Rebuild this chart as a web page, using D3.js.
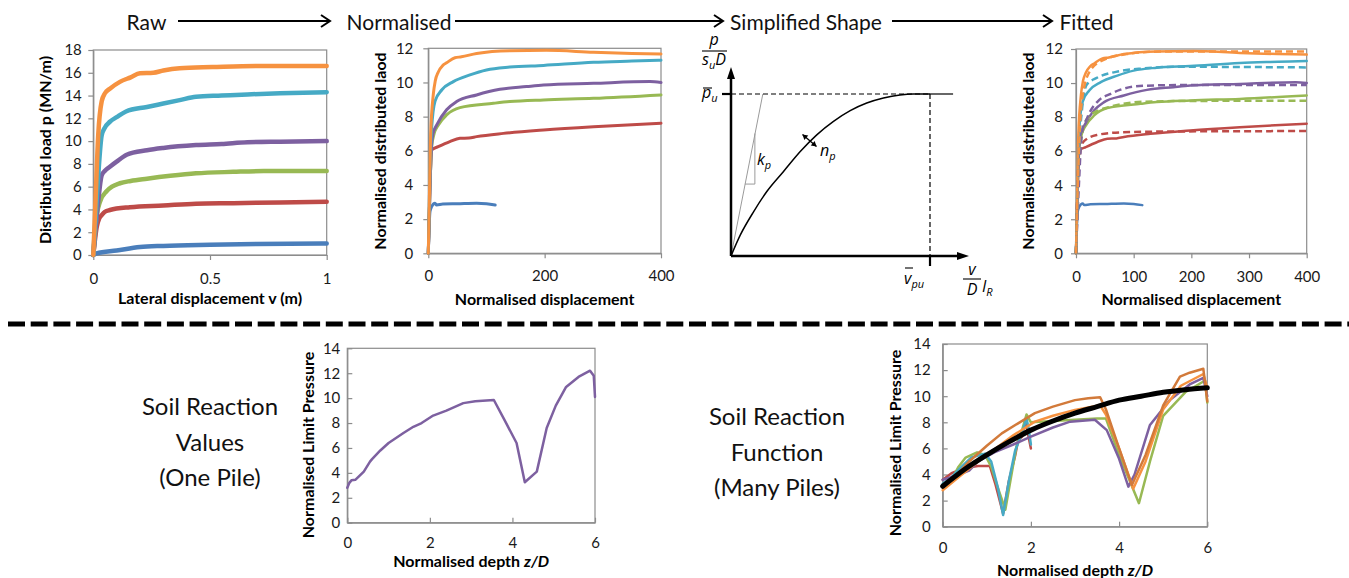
<!DOCTYPE html>
<html>
<head>
<meta charset="utf-8">
<script src="https://cdn.jsdelivr.net/npm/d3@7"></script>
<style>
  body { margin: 0; background: #fff; }
  svg text { font-family: Lato, "Open Sans", sans-serif; }
</style>
</head>
<body>
<svg id="fig" width="1349" height="578"></svg>
<script>
// ---- data ----
// Raw: lateral displacement v (m) vs distributed load p (MN/m)
var rawBlue   = [[0,0],[0.014,0.15],[0.1,0.4],[0.2,0.7],[0.3,0.8],[0.5,0.9],[0.7,0.97],[1,1.0]];
var rawRed    = [[0,0],[0.015,2.5],[0.025,3.2],[0.036,3.5],[0.05,3.8],[0.071,3.95],[0.157,4.2],[0.3,4.35],[0.44,4.5],[0.6,4.55],[0.8,4.62],[1,4.68]];
var rawGreen  = [[0,0],[0.015,3.5],[0.029,4.7],[0.057,5.6],[0.08,6.0],[0.114,6.3],[0.16,6.5],[0.23,6.7],[0.33,6.95],[0.44,7.17],[0.6,7.3],[0.73,7.37],[1,7.37]];
var rawPurple = [[0,0],[0.02,4.5],[0.036,7.0],[0.05,7.4],[0.071,7.75],[0.1,8.2],[0.143,8.8],[0.23,9.2],[0.3,9.4],[0.44,9.65],[0.55,9.75],[0.66,9.9],[0.8,9.95],[1,10.0]];
var rawTeal   = [[0,0],[0.015,5],[0.036,10.5],[0.05,11.2],[0.071,11.7],[0.1,12.1],[0.14,12.6],[0.23,13.0],[0.3,13.3],[0.37,13.6],[0.44,13.9],[0.55,14.0],[0.66,14.1],[0.8,14.2],[1,14.3]];
var rawOrange = [[0,0],[0.01,5],[0.021,10.5],[0.036,13.5],[0.05,14.2],[0.071,14.6],[0.114,15.2],[0.16,15.6],[0.2,15.95],[0.257,16.0],[0.3,16.2],[0.37,16.4],[0.51,16.5],[0.7,16.6],[1,16.6]];

// Normalised displacement vs normalised distributed load
var normBlue   = [[0,0],[2.9,2.44],[5.7,2.73],[11.5,2.93],[14.3,2.83],[25,2.88],[50,2.9],[83,2.93],[100,2.9],[115,2.83]];
var normRed    = [[0,0],[3,4],[5.7,6.05],[17,6.24],[37,6.54],[54.4,6.73],[70,6.75],[83,6.83],[129,7.02],[198,7.22],[284,7.41],[400,7.61]];
var normGreen  = [[0,0],[3,4],[6,6.3],[10,7.0],[17,7.5],[31.5,8.1],[54.4,8.53],[112,8.78],[140,8.88],[198,8.98],[284,9.07],[400,9.27]];
var normPurple = [[0,0],[3,4],[5.7,6.34],[8,7.0],[14.3,7.5],[31.5,8.4],[48.7,8.88],[83,9.27],[123,9.6],[169,9.76],[198,9.85],[284,9.95],[381,10.05],[400,10.0]];
var normTeal   = [[0,0],[3,5],[5.7,7.3],[11.5,8.9],[23,9.56],[43,10.05],[71.6,10.44],[100,10.73],[140,10.9],[198,11.0],[284,11.18],[350,11.25],[400,11.3]];
var normOrange = [[0,0],[2,3.5],[4,6.9],[8.6,9.3],[12,10.1],[17,10.6],[25,11.0],[31.5,11.15],[45.8,11.45],[57,11.5],[83,11.7],[140,11.86],[203,11.88],[284,11.77],[350,11.7],[400,11.67]];

// Fitted curves (dashed)
var fitRed    = [[0,0],[4,5],[12.7,6.55],[36,6.95],[76,7.1],[150,7.15],[400,7.18]];
var fitGreen  = [[0,0],[5,5],[12,7.2],[24,8.1],[59,8.6],[117,8.9],[200,8.95],[400,8.96]];
var fitPurple = [[0,0],[5,4],[10,7],[20,8],[40,9.0],[59,9.35],[76,9.6],[117,9.84],[175,9.88],[250,9.88],[400,9.88]];
var fitTeal   = [[0,0],[5,6],[10,8.3],[18.5,9.9],[36,10.3],[76,10.7],[117,10.86],[175,10.96],[250,10.95],[400,10.92]];
var fitOrange = [[0,0],[4,5],[10,8.9],[24,10.7],[47,11.35],[88,11.7],[146,11.85],[250,11.85],[400,11.85]];

// Simplified shape (normalised schematic: v / v_pu, p / p_u)
var shapeCurve = [[0,0],[0.047,0.13],[0.114,0.274],[0.18,0.398],[0.264,0.522],[0.348,0.645],[0.431,0.748],[0.515,0.831],[0.599,0.897],[0.682,0.944],[0.766,0.975],[0.849,0.994],[0.916,1.0],[1,1]];
var kpLine = [[0,0],[0.16,1]];
var kpTriangle = [[0.07,0.444],[0.12,0.444],[0.12,0.756]];

// Soil reaction values, one pile: depth z/D vs normalised limit pressure
var onePile = [[0,2.8],[0.05,3.2],[0.1,3.4],[0.2,3.45],[0.4,4.1],[0.55,4.9],[0.6,5.1],[0.8,5.8],[1.0,6.4],[1.36,7.2],[1.6,7.7],[1.8,8.0],[2.08,8.6],[2.4,9.0],[2.81,9.6],[3.1,9.75],[3.55,9.85],[3.8,8.3],[4.1,6.4],[4.3,3.25],[4.59,4.1],[4.83,7.6],[5.05,9.4],[5.3,10.9],[5.6,11.7],[5.88,12.2],[5.97,11.8],[6.0,10.1]];

// Soil reaction function, many piles
var manyRed    = [[0,3.6],[0.2,4.1],[0.5,4.5],[0.8,4.65],[1.07,4.65],[1.2,3.2],[1.37,1.0],[1.5,3.5],[1.64,5.4],[1.71,6.6],[1.8,6.9],[1.87,8.2],[2.0,6.0]];
var manyGreen  = [[0,3.2],[0.2,3.6],[0.36,4.6],[0.52,5.3],[0.78,5.7],[0.96,5.5],[1.1,4.6],[1.25,3.0],[1.42,1.3],[1.55,3.8],[1.67,6.1],[1.8,7.4],[1.9,8.6],[2.0,8.0],[2.5,8.1],[3.0,8.2],[3.5,8.3],[3.7,8.3],[4.0,5.5],[4.45,1.8],[4.7,5.0],[5.0,8.5],[5.5,10.3],[5.95,11.2],[6.0,9.5]];
var manyTeal   = [[0,3.3],[0.2,3.8],[0.43,4.6],[0.65,5.3],[0.96,5.6],[1.1,5.0],[1.25,3.0],[1.37,0.9],[1.5,3.5],[1.64,5.8],[1.8,7.2],[1.9,8.3],[1.95,7.5],[2.0,6.3]];
var manyPurple = [[0,3.6],[0.3,3.9],[0.6,4.3],[0.8,5.0],[1.17,5.7],[1.6,6.3],[2.0,6.9],[2.5,7.6],[2.89,8.05],[3.45,8.2],[3.72,7.4],[4.0,5.2],[4.21,3.07],[4.35,4.0],[4.7,7.8],[5.15,9.7],[5.6,10.9],[5.91,11.4],[6.0,10.0]];
var manyLightOrange = [[0,2.8],[0.4,3.9],[0.8,5.0],[1.2,6.0],[1.6,7.0],[2.09,8.05],[2.5,8.5],[3.0,8.95],[3.57,9.3],[3.7,8.6],[4.0,6.0],[4.32,2.9],[4.6,5.0],[5.0,9.0],[5.4,10.8],[5.91,11.7],[6.0,10.6]];
var manyDarkOrange  = [[0,3.0],[0.3,3.9],[0.6,5.0],[1.0,6.2],[1.34,7.15],[1.7,7.9],[2.09,8.7],[2.5,9.2],[3.0,9.7],[3.3,9.85],[3.57,9.92],[3.7,9.0],[4.0,6.0],[4.29,3.2],[4.6,5.5],[5.0,9.3],[5.38,11.5],[5.6,11.8],[5.91,12.1],[6.0,9.6]];
var manyFit = [[0,3.1],[0.5,4.4],[1,5.5],[1.5,6.5],[2,7.4],[2.5,8.1],[3,8.7],[3.5,9.2],[4,9.7],[4.5,10.0],[5,10.3],[5.5,10.5],[6,10.65]];

// tick values
var rawXTicks = [0, 0.5, 1];
var rawYTicks = [0, 2, 4, 6, 8, 10, 12, 14, 16, 18];
var normXTicks = [0, 200, 400];
var normYTicks = [0, 2, 4, 6, 8, 10, 12];
var fitXTicks = [0, 100, 200, 300, 400];
var depthXTicks = [0, 2, 4, 6];
var depthYTicks = [0, 2, 4, 6, 8, 10, 12, 14];

// headings
var stageNames = ["Raw", "Normalised", "Simplified Shape", "Fitted"];
var leftCaption = ["Soil Reaction", "Values", "(One Pile)"];
var rightCaption = ["Soil Reaction", "Function", "(Many Piles)"];

// ---- drawing ----
var col = {
  blue: "#4A7EBB", red: "#BE4B48", green: "#98B954", purple: "#7D60A0",
  teal: "#46AAC5", orange: "#F69240", darkOrange: "#D27A3A"
};
var axisGrey = "#8c8c8c";
var svg = d3.select("#fig");
var fmt = function (d) { return String(d); };

function styleAxis(sel) {
  sel.attr("font-family", null).attr("font-size", null);
  sel.select(".domain").attr("stroke", axisGrey).attr("stroke-width", 1.2);
  sel.selectAll(".tick line").attr("stroke", axisGrey).attr("stroke-width", 1.2);
  sel.selectAll(".tick text").attr("fill", "#1a1a1a").style("font-size", "15px");
}

function panel(c) {
  var x = d3.scaleLinear().domain(c.xDomain).range([c.left, c.right]);
  var y = d3.scaleLinear().domain(c.yDomain).range([c.bottom, c.top]);
  var g = svg.append("g");
  var tk = c.inside ? -5 : 5;
  g.append("rect")
    .attr("x", c.left).attr("y", c.top)
    .attr("width", c.right - c.left).attr("height", c.bottom - c.top)
    .attr("fill", "none").attr("stroke", axisGrey).attr("stroke-width", 1.2);
  g.append("g")
    .attr("transform", "translate(0," + c.bottom + ")")
    .call(d3.axisBottom(x).tickValues(c.xTicks).tickFormat(fmt)
      .tickSizeInner(tk).tickSizeOuter(0).tickPadding(c.xPad))
    .call(styleAxis);
  g.append("g")
    .attr("transform", "translate(" + c.left + ",0)")
    .call(d3.axisLeft(y).tickValues(c.yTicks).tickFormat(fmt)
      .tickSizeInner(tk).tickSizeOuter(0).tickPadding(c.yPad))
    .call(styleAxis);

  // axis titles
  var xt = g.append("text")
    .attr("x", (c.left + c.right) / 2).attr("y", c.xTitleY)
    .attr("text-anchor", "middle").style("font-weight", "bold").style("font-size", "16px")
    .text(c.xTitle);
  if (c.xTitleItalic) xt.append("tspan").style("font-style", "italic").text(c.xTitleItalic);
  g.append("text")
    .attr("transform", "translate(" + c.yTitleX + "," + c.yTitleY + ") rotate(-90)")
    .attr("text-anchor", "middle").attr("dy", "0.35em")
    .style("font-weight", "bold").style("font-size", "16px")
    .text(c.yTitle);
  return { g: g, x: x, y: y };
}

function drawLine(p, data, color, width, dash, curve) {
  var line = d3.line()
    .x(function (d) { return p.x(d[0]); })
    .y(function (d) { return p.y(d[1]); })
    .curve(curve || d3.curveLinear);
  p.g.append("path")
    .datum(data)
    .attr("d", line)
    .attr("fill", "none")
    .attr("stroke", color)
    .attr("stroke-width", width)
    .attr("stroke-linejoin", "round")
    .attr("stroke-linecap", dash ? "butt" : "round")
    .attr("stroke-dasharray", dash || null);
}

// Raw
var pRaw = panel({
  left: 93.3, right: 326.7, top: 50, bottom: 255,
  xDomain: [0, 1], yDomain: [0, 18], xTicks: rawXTicks, yTicks: rawYTicks,
  xPad: 13, yPad: 6.5,
  xTitle: "Lateral displacement v (m)", xTitleY: 304,
  yTitle: "Distributed load p (MN/m)", yTitleX: 45, yTitleY: 150
});
[[rawBlue, col.blue], [rawRed, col.red], [rawGreen, col.green], [rawPurple, col.purple], [rawTeal, col.teal], [rawOrange, col.orange]]
  .forEach(function (s) { drawLine(pRaw, s[0], s[1], 4.5, null, d3.curveMonotoneX); });

// Normalised
var pNorm = panel({
  left: 428.3, right: 661, top: 48.3, bottom: 253.3,
  xDomain: [0, 400], yDomain: [0, 12], xTicks: normXTicks, yTicks: normYTicks,
  xPad: 12, yPad: 10,
  xTitle: "Normalised displacement", xTitleY: 305,
  yTitle: "Normalised distributed laod", yTitleX: 380, yTitleY: 151
});
[[normBlue, col.blue], [normRed, col.red], [normGreen, col.green], [normPurple, col.purple], [normTeal, col.teal], [normOrange, col.orange]]
  .forEach(function (s) { drawLine(pNorm, s[0], s[1], 3, null, d3.curveMonotoneX); });

// Fitted
var pFit = panel({
  left: 1076, right: 1306.7, top: 49, bottom: 253.3,
  xDomain: [0, 400], yDomain: [0, 12], xTicks: fitXTicks, yTicks: normYTicks,
  xPad: 13, yPad: 8,
  xTitle: "Normalised displacement", xTitleY: 305,
  yTitle: "Normalised distributed laod", yTitleX: 1028, yTitleY: 151
});
[[normBlue, col.blue], [normRed, col.red], [normGreen, col.green], [normPurple, col.purple], [normTeal, col.teal], [normOrange, col.orange]]
  .forEach(function (s) { drawLine(pFit, s[0], s[1], 2.5, null, d3.curveMonotoneX); });
[[fitRed, col.red], [fitGreen, col.green], [fitPurple, col.purple], [fitTeal, col.teal], [fitOrange, col.orange]]
  .forEach(function (s) { drawLine(pFit, s[0], s[1], 2.5, "7,4", d3.curveMonotoneX); });

// Soil reaction values (one pile)
var pOne = panel({
  left: 347.3, right: 595, top: 348.3, bottom: 522.7, inside: true,
  xDomain: [0, 6], yDomain: [0, 14], xTicks: depthXTicks, yTicks: depthYTicks,
  xPad: 15, yPad: 7,
  xTitle: "Normalised depth ", xTitleItalic: "z/D", xTitleY: 567,
  yTitle: "Normalised Limit Pressure", yTitleX: 308, yTitleY: 445
});
drawLine(pOne, onePile, col.purple, 2.5);

// Soil reaction function (many piles)
var pMany = panel({
  left: 942.7, right: 1207.3, top: 344, bottom: 526.7, inside: true,
  xDomain: [0, 6], yDomain: [0, 14], xTicks: depthXTicks, yTicks: depthYTicks,
  xPad: 16, yPad: 12,
  xTitle: "Normalised depth ", xTitleItalic: "z/D", xTitleY: 576,
  yTitle: "Normalised Limit Pressure", yTitleX: 895, yTitleY: 443
});
[[manyRed, col.red], [manyGreen, col.green], [manyTeal, col.teal], [manyPurple, col.purple], [manyLightOrange, col.orange], [manyDarkOrange, col.darkOrange]]
  .forEach(function (s) { drawLine(pMany, s[0], s[1], 2.5); });
drawLine(pMany, manyFit, "#000", 5, null, d3.curveMonotoneX);

// ---- simplified shape schematic ----
var sx = d3.scaleLinear().domain([0, 1]).range([731, 930]);
var sy = d3.scaleLinear().domain([0, 1]).range([256, 94]);
var sg = svg.append("g");
var sLine = d3.line().x(function (d) { return sx(d[0]); }).y(function (d) { return sy(d[1]); });

sg.append("path").datum(kpLine).attr("d", sLine).attr("fill", "none").attr("stroke", "#9a9a9a").attr("stroke-width", 1);
sg.append("path").datum(kpTriangle).attr("d", sLine).attr("fill", "none").attr("stroke", "#9a9a9a").attr("stroke-width", 1);
sg.append("path").datum(shapeCurve).attr("d", sLine.curve(d3.curveMonotoneX)).attr("fill", "none").attr("stroke", "#000").attr("stroke-width", 1.5);
sLine.curve(d3.curveLinear);

// dashed guide lines
sg.append("line").attr("x1", sx(0)).attr("x2", sx(1)).attr("y1", sy(1)).attr("y2", sy(1))
  .attr("stroke", "#000").attr("stroke-width", 1.2).attr("stroke-dasharray", "5,3");
sg.append("line").attr("x1", sx(1)).attr("x2", sx(1.116)).attr("y1", sy(1)).attr("y2", sy(1))
  .attr("stroke", "#000").attr("stroke-width", 1.2);
sg.append("line").attr("x1", sx(1)).attr("x2", sx(1)).attr("y1", sy(1)).attr("y2", sy(0))
  .attr("stroke", "#000").attr("stroke-width", 1.2).attr("stroke-dasharray", "5,3");
sg.append("line").attr("x1", sx(1)).attr("x2", sx(1)).attr("y1", sy(0)).attr("y2", sy(0) + 10)
  .attr("stroke", "#000").attr("stroke-width", 2.2);
sg.append("line").attr("x1", sx(0) - 9).attr("x2", sx(0)).attr("y1", sy(1)).attr("y2", sy(1))
  .attr("stroke", "#000").attr("stroke-width", 2.2);

// axes with arrow heads
sg.append("line").attr("x1", sx(0)).attr("x2", sx(0)).attr("y1", sy(0)).attr("y2", 76)
  .attr("stroke", "#000").attr("stroke-width", 2.5);
sg.append("path").attr("d", "M" + (sx(0) - 4) + ",79L" + sx(0) + ",67L" + (sx(0) + 4) + ",79Z").attr("fill", "#000");
sg.append("line").attr("x1", sx(0)).attr("x2", 960).attr("y1", sy(0)).attr("y2", sy(0))
  .attr("stroke", "#000").attr("stroke-width", 2.5);
sg.append("path").attr("d", "M957," + (sy(0) - 4) + "L969," + sy(0) + "L957," + (sy(0) + 4) + "Z").attr("fill", "#000");

// n_p double arrow
var na = [802.5, 134.5], nb = [816.5, 146.5];
sg.append("line").attr("x1", na[0]).attr("y1", na[1]).attr("x2", nb[0]).attr("y2", nb[1])
  .attr("stroke", "#000").attr("stroke-width", 1.3);
function headAt(p, q) {
  var ang = Math.atan2(p[1] - q[1], p[0] - q[0]);
  var L = 5, W = 3;
  var bx = p[0] - L * Math.cos(ang), by = p[1] - L * Math.sin(ang);
  var pts = [p, [bx - W * Math.sin(ang), by + W * Math.cos(ang)], [bx + W * Math.sin(ang), by - W * Math.cos(ang)]];
  sg.append("path").attr("d", "M" + pts.join("L") + "Z").attr("fill", "#000");
}
headAt(na, nb); headAt(nb, na);

// schematic labels
function it(x, y, anchor) {
  return sg.append("text").attr("x", x).attr("y", y).attr("text-anchor", anchor || "start")
    .style("font-style", "italic").style("font-size", "16px").style("font-family", "'Open Sans', Lato, sans-serif");
}
function sub(t, s) { t.append("tspan").attr("dy", 4).style("font-size", "11px").text(s); return t; }

it(714, 45, "middle").text("p");
sg.append("line").attr("x1", 702).attr("x2", 727).attr("y1", 51).attr("y2", 51).attr("stroke", "#000").attr("stroke-width", 1.1);
var sud = it(714, 65, "middle").text("s");
sud.append("tspan").attr("dy", 4).style("font-size", "11px").text("u");
sud.append("tspan").attr("dy", -4).text("D");

sub(it(702, 98).text("p"), "u");
sg.append("line").attr("x1", 703).attr("x2", 712).attr("y1", 88).attr("y2", 88).attr("stroke", "#000").attr("stroke-width", 1.1);

sub(it(757, 165).text("k"), "p");
sub(it(820, 156).text("n"), "p");

sub(it(904, 284).text("v"), "pu");
sg.append("line").attr("x1", 905).attr("x2", 913).attr("y1", 268).attr("y2", 268).attr("stroke", "#000").attr("stroke-width", 1.1);

it(972, 275, "middle").text("v");
sg.append("line").attr("x1", 963).attr("x2", 981).attr("y1", 279).attr("y2", 279).attr("stroke", "#000").attr("stroke-width", 1.1);
it(972, 295, "middle").text("D");
sub(it(982, 292).text("I"), "R");

// ---- header: stage names and arrows ----
var stageX = [146.5, 399, 806, 1086.5];
var arrowSpans = [[178, 330], [455, 723], [892, 1052]];
svg.selectAll(".stage").data(stageNames).enter().append("text")
  .attr("class", "stage")
  .attr("x", function (d, i) { return stageX[i]; }).attr("y", 30)
  .attr("text-anchor", "middle").style("font-size", "21px").attr("fill", "#111")
  .text(function (d) { return d; });
arrowSpans.forEach(function (a) {
  svg.append("line").attr("x1", a[0]).attr("x2", a[1]).attr("y1", 21).attr("y2", 21)
    .attr("stroke", "#000").attr("stroke-width", 2);
  svg.append("path").attr("d", "M" + (a[1] - 9) + ",15L" + a[1] + ",21L" + (a[1] - 9) + ",27")
    .attr("fill", "none").attr("stroke", "#000").attr("stroke-width", 2);
});

// separator
svg.append("line").attr("x1", 8).attr("x2", 1349).attr("y1", 324).attr("y2", 324)
  .attr("stroke", "#000").attr("stroke-width", 5).attr("stroke-dasharray", "17,5.7");

// captions
function caption(lines, cx, y0) {
  svg.append("g").selectAll("text").data(lines).enter().append("text")
    .attr("x", cx).attr("y", function (d, i) { return y0 + i * 35.5; })
    .attr("text-anchor", "middle").style("font-size", "24px").attr("fill", "#111")
    .text(function (d) { return d; });
}
caption(leftCaption, 210, 415);
caption(rightCaption, 777, 425);
</script>
</body>
</html>
